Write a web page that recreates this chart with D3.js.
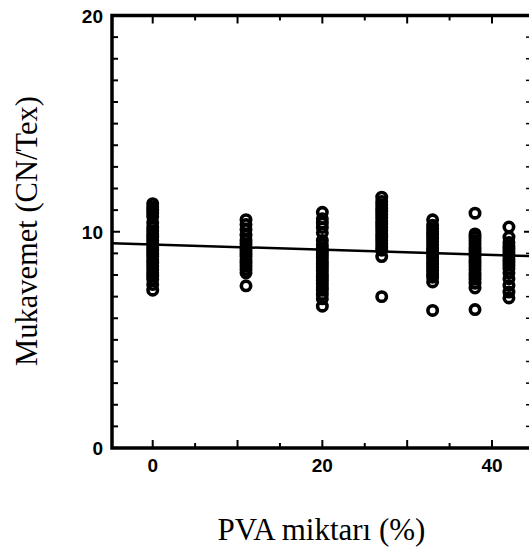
<!DOCTYPE html>
<html>
<head>
<meta charset="utf-8">
<script src="https://cdn.jsdelivr.net/npm/d3@7"></script>
<style>
  body { margin: 0; background: #fff; }
  svg { display: block; }
</style>
</head>
<body>
<svg id="chart" width="529" height="552"></svg>
<script>
// PVA amounts where the samples were taken (x positions of the columns)
const pvaLevels = [0, 11, 20, 27, 33, 38, 42];

// strength readings (CN/Tex) for each PVA level
const strength0 = [11.3, 11.15, 11.0, 10.85, 10.7, 10.42, 10.2, 10.05, 9.9, 9.75, 9.6, 9.45, 9.3, 9.15, 9.0, 8.85, 8.7, 8.55, 8.4, 8.25, 8.1, 7.95, 7.8, 7.56, 7.3];
const strength11 = [10.56, 10.33, 10.1, 9.84, 9.6, 9.45, 9.3, 9.15, 9.0, 8.85, 8.7, 8.55, 8.4, 8.25, 8.1, 7.5];
const strength20 = [10.9, 10.6, 10.4, 10.2, 9.95, 9.6, 9.4, 9.25, 9.1, 8.95, 8.8, 8.65, 8.5, 8.35, 8.2, 8.05, 7.9, 7.75, 7.6, 7.45, 7.3, 7.1, 6.9, 6.56];
const strength27 = [11.6, 11.4, 11.25, 11.1, 10.95, 10.8, 10.65, 10.5, 10.35, 10.2, 10.05, 9.9, 9.75, 9.6, 9.45, 9.3, 9.15, 8.85, 7.0];
const strength33 = [10.55, 10.3, 10.15, 10.0, 9.85, 9.7, 9.55, 9.4, 9.25, 9.1, 8.95, 8.8, 8.65, 8.5, 8.35, 8.2, 8.05, 7.9, 7.68, 6.36];
const strength38 = [10.86, 9.9, 9.75, 9.6, 9.45, 9.3, 9.15, 9.0, 8.85, 8.7, 8.55, 8.4, 8.25, 8.1, 7.95, 7.8, 7.62, 7.4, 6.4];
const strength42 = [10.22, 9.75, 9.5, 9.35, 9.2, 9.05, 8.9, 8.75, 8.6, 8.45, 8.3, 8.1, 7.83, 7.52, 7.21, 6.94];
const strengthByLevel = [strength0, strength11, strength20, strength27, strength33, strength38, strength42];

// fitted trend line (end points)
const fitX = [-4.8, 44.6];
const fitY = [9.47, 8.87];

// tick labels
const xTickLabels = [0, 20, 40];
const yTickLabels = [0, 10, 20];

const svg = d3.select("#chart");

// scales - the frame on the right is cut off in the scan, so the domain runs past the window
const x = d3.scaleLinear().domain([-4.8, 44.6]).range([112, 531]);
const y = d3.scaleLinear().domain([0, 20]).range([448, 15.5]);

const plotLeft = x.range()[0], plotRight = x.range()[1];
const plotTop = y.range()[1], plotBottom = y.range()[0];

// flatten into points
const points = [];
pvaLevels.forEach((lvl, i) => {
  strengthByLevel[i].forEach(v => points.push({ x: lvl, y: v }));
});

// ticks (all pointing inwards)
const g = svg.append("g");

// bottom + top ticks every 5, longer every 10
d3.range(0, 45, 5).forEach(t => {
  const len = t % 10 === 0 ? 8 : 5;
  g.append("line").attr("x1", x(t)).attr("x2", x(t))
    .attr("y1", plotBottom).attr("y2", plotBottom - len)
    .attr("stroke", "#000").attr("stroke-width", 2);
  g.append("line").attr("x1", x(t)).attr("x2", x(t))
    .attr("y1", plotTop).attr("y2", plotTop + len)
    .attr("stroke", "#000").attr("stroke-width", 2);
});

// left + right ticks every 1
d3.range(1, 20).forEach(t => {
  const len = t % 10 === 0 ? 8 : 6;
  g.append("line").attr("x1", plotLeft).attr("x2", plotLeft + len)
    .attr("y1", y(t)).attr("y2", y(t))
    .attr("stroke", "#000").attr("stroke-width", 2);
  g.append("line").attr("x1", plotRight).attr("x2", plotRight - len + 1)
    .attr("y1", y(t)).attr("y2", y(t))
    .attr("stroke", "#000").attr("stroke-width", t % 10 === 0 ? 2 : 1.5);
});

// frame
g.append("path")
  .attr("d", `M${plotLeft},${plotTop}H${plotRight}M${plotLeft},${plotTop}V${plotBottom}H${plotRight}`)
  .attr("fill", "none").attr("stroke", "#000").attr("stroke-width", 3.5)
  .attr("stroke-linecap", "square");

// tick labels
svg.append("g").selectAll("text").data(xTickLabels).join("text")
  .attr("x", d => x(d)).attr("y", 472)
  .attr("text-anchor", "middle")
  .attr("font-family", "Liberation Sans, Arial, sans-serif")
  .attr("font-weight", "bold").attr("font-size", 19)
  .text(d => d);

svg.append("g").selectAll("text").data(yTickLabels).join("text")
  .attr("x", 103).attr("y", d => y(d) + 7)
  .attr("text-anchor", "end")
  .attr("font-family", "Liberation Sans, Arial, sans-serif")
  .attr("font-weight", "bold").attr("font-size", 19)
  .text(d => d);

// fitted line
svg.append("line")
  .attr("x1", x(fitX[0])).attr("y1", y(fitY[0]))
  .attr("x2", x(fitX[1])).attr("y2", y(fitY[1]))
  .attr("stroke", "#000").attr("stroke-width", 2.5);

// data points (open circles)
svg.append("g").selectAll("circle").data(points).join("circle")
  .attr("cx", d => x(d.x)).attr("cy", d => y(d.y))
  .attr("r", 4.7)
  .attr("fill", "none")
  .attr("stroke", "#000").attr("stroke-width", 3.6);

// axis titles
svg.append("text")
  .attr("x", (plotLeft + plotRight) / 2).attr("y", 540)
  .attr("text-anchor", "middle")
  .attr("font-family", "'Liberation Serif', 'Times New Roman', serif")
  .attr("font-size", 31)
  .text("PVA miktarı (%)");

svg.append("text")
  .attr("transform", `translate(37,231) rotate(-90)`)
  .attr("text-anchor", "middle")
  .attr("font-family", "'Liberation Serif', 'Times New Roman', serif")
  .attr("font-size", 30.5)
  .text("Mukavemet (CN/Tex)");
</script>
</body>
</html>
